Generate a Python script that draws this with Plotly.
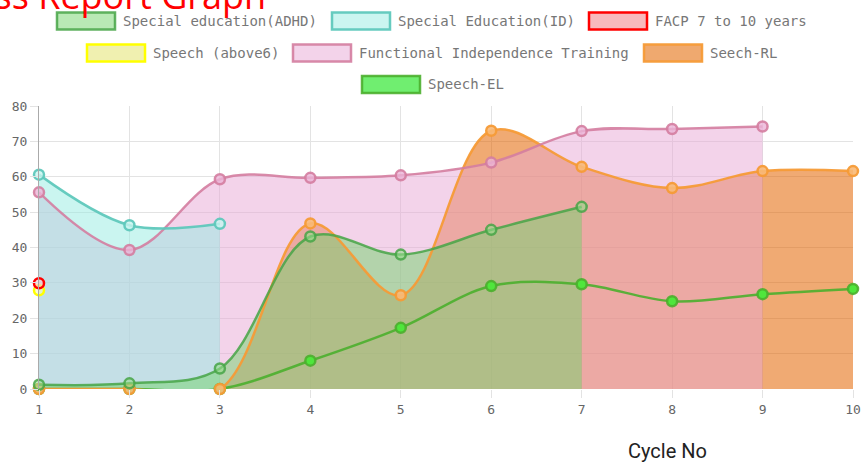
import plotly.graph_objects as go

# ---------------- data ----------------
cycles = [1, 2, 3, 4, 5, 6, 7, 8, 9, 10]
series_names = [
    "Special education(ADHD)",
    "Special Education(ID)",
    "FACP 7 to 10 years",
    "Speech (above6)",
    "Functional Independence Training",
    "Seech-RL",
    "Speech-EL",
]
adhd = [1.2, 1.6, 5.8, 43.1, 38.0, 45.0, 51.5]
sp_id = [60.6, 46.3, 46.7]
facp = [29.9]
speech6 = [27.9]
fit = [55.6, 39.3, 59.3, 59.7, 60.4, 64.0, 72.9, 73.5, 74.2]
seech_rl = [0, 0, 0, 46.8, 26.5, 73.0, 62.8, 56.8, 61.6, 61.6]
speech_el = [0, 0, 0, 8.0, 17.3, 29.1, 29.6, 24.8, 26.8, 28.3]
series_values = [adhd, sp_id, facp, speech6, fit, seech_rl, speech_el]
y_ticks = [0, 10, 20, 30, 40, 50, 60, 70, 80]

# ---------------- styles ----------------
line_colors = ["rgba(70,165,70,0.85)", "rgba(95,200,188,0.95)", "#ff0000", "#ffff00",
               "rgba(212,125,160,0.9)", "rgba(245,155,55,0.95)", "rgba(75,175,45,0.9)"]
fill_colors = ["rgba(115,212,108,0.5)", "rgba(150,235,225,0.5)", "rgba(240,128,128,0.5)",
               "rgba(230,230,140,0.6)", "rgba(231,167,213,0.5)", "rgba(227,100,0,0.55)",
               "rgba(112,238,112,1)"]
legend_fill = ["#b9e9b5", "#cbf5f0", "#f8b9bc", "#f0f0b0", "#f3d3ea", "#efa96f", "#70ee70"]
has_fill = [True, True, True, True, True, True, False]
marker_fill = ["rgba(150,220,140,0.6)", "rgba(200,245,240,0.8)", "rgba(255,200,200,0.6)",
               "rgba(250,250,180,0.6)", "rgba(235,180,215,0.8)", "rgba(248,185,120,0.9)",
               "rgba(80,230,60,1)"]

W, H = 862, 463
L, R, T, B = 39, 853, 106, 389


def px_x(p):
    return (p - L) / (R - L)


def px_y(p):
    return (B - p) / (B - T)


fig = go.Figure()
# Chart.js: all fills first (first dataset on top), then all lines/points
for i in reversed(range(len(series_names))):
    if not has_fill[i]:
        continue
    vals = series_values[i]
    xs = cycles[:len(vals)]
    fig.add_trace(go.Scatter(
        x=xs, y=vals, name=series_names[i] + " fill",
        mode="lines",
        line=dict(color="rgba(0,0,0,0)", width=0, shape="spline", smoothing=1.0),
        fill="tozeroy", fillcolor=fill_colors[i],
        hoverinfo="skip", showlegend=False,
    ))
for i in reversed(range(len(series_names))):
    vals = series_values[i]
    xs = cycles[:len(vals)]
    fig.add_trace(go.Scatter(
        x=xs, y=vals, name=series_names[i],
        mode="lines+markers",
        line=dict(color=line_colors[i], width=2.5, shape="spline", smoothing=1.0),
        marker=dict(size=10, color=marker_fill[i],
                    line=dict(color=line_colors[i], width=2.5)),
        cliponaxis=False,
        showlegend=False,
    ))

# ---------------- custom legend ----------------
legend_pos = [(57, 21), (332, 21), (589, 21), (87, 53), (293, 53), (644, 53), (362, 84.5)]
box_w, box_h = 58, 17
shapes = []
annotations = []
for i, name in enumerate(series_names):
    x0, yc = legend_pos[i]
    shapes.append(dict(type="rect", xref="paper", yref="paper",
                       x0=px_x(x0), x1=px_x(x0 + box_w),
                       y0=px_y(yc + box_h / 2), y1=px_y(yc - box_h / 2),
                       fillcolor=legend_fill[i],
                       line=dict(color=line_colors[i] if i != 2 else "#ff0000", width=2.5)))
    annotations.append(dict(xref="paper", yref="paper", x=px_x(x0 + box_w + 6), y=px_y(yc),
                            xanchor="left", yanchor="middle", showarrow=False, text=name,
                            font=dict(family="DejaVu Sans Mono", size=14, color="#777")))

annotations.append(dict(xref="paper", yref="paper", x=px_x(268), y=px_y(-5),
                        xanchor="right", yanchor="middle", showarrow=False,
                        text="Progress Report Graph",
                        font=dict(family="Open Sans", size=36, color="#ff0000")))
annotations.append(dict(xref="paper", yref="paper", x=px_x(667), y=px_y(451),
                        xanchor="center", yanchor="middle", showarrow=False,
                        text="Cycle No",
                        font=dict(family="Roboto", size=20, color="#222")))

fig.update_layout(
    width=W, height=H,
    margin=dict(l=L, r=W - R, t=T, b=H - B, pad=0, autoexpand=False),
    paper_bgcolor="white", plot_bgcolor="white",
    shapes=shapes, annotations=annotations,
    xaxis=dict(range=[1, 10], tickvals=cycles, showgrid=True, gridcolor="#e3e3e3",
               gridwidth=1, zeroline=False, ticks="outside", ticklen=8,
               tickcolor="#e3e3e3", showline=False, automargin=False,
               tickfont=dict(family="DejaVu Sans Mono", size=13, color="#666")),
    yaxis=dict(range=[0, 80], tickvals=y_ticks, showgrid=True, gridcolor="#e3e3e3",
               gridwidth=1, zeroline=False, ticks="outside", ticklen=8,
               tickcolor="#e3e3e3", showline=True, linecolor="#aaa", linewidth=1,
               automargin=False,
               tickfont=dict(family="DejaVu Sans Mono", size=13, color="#666")),
)

fig.write_html("out.html", config={"displayModeBar": False},
               post_script="document.body.style.margin='0';document.body.style.overflow='hidden';")
